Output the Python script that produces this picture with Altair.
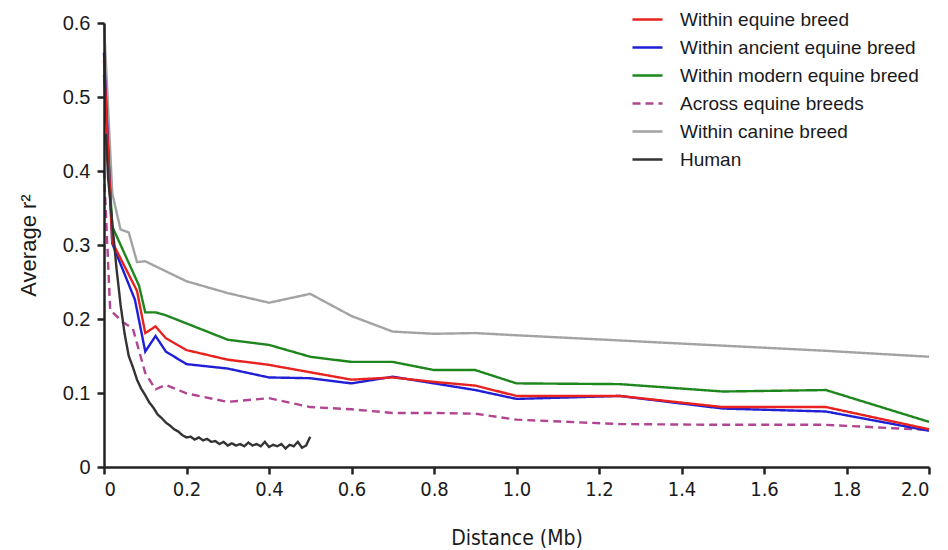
import altair as alt
import pandas as pd

series_order = ["Within equine breed", "Within ancient equine breed", "Within modern equine breed",
                "Across equine breeds", "Within canine breed", "Human"]
series_colors = ["#e8231f", "#1f1fd6", "#1d861d", "#b14592", "#a3a3a3", "#333333"]
series_dash = [[1, 0], [1, 0], [1, 0], [8, 5], [1, 0], [1, 0]]

red_x = [0, 0.02, 0.08, 0.1, 0.125, 0.15, 0.2, 0.3, 0.4, 0.5, 0.6, 0.7, 0.8, 0.9, 1.0, 1.25, 1.5, 1.75, 2.0]
red_y = [0.55, 0.304, 0.238, 0.181, 0.190, 0.174, 0.158, 0.145, 0.138, 0.128, 0.118, 0.121, 0.115, 0.110, 0.096, 0.096, 0.081, 0.081, 0.051]

blue_x = [0, 0.02, 0.075, 0.1, 0.125, 0.15, 0.2, 0.3, 0.4, 0.5, 0.6, 0.7, 0.8, 0.9, 1.0, 1.25, 1.5, 1.75, 2.0]
blue_y = [0.56, 0.302, 0.226, 0.156, 0.177, 0.156, 0.139, 0.133, 0.121, 0.120, 0.113, 0.122, 0.113, 0.104, 0.092, 0.096, 0.079, 0.075, 0.049]

green_x = [0, 0.02, 0.085, 0.1, 0.125, 0.15, 0.2, 0.3, 0.4, 0.5, 0.6, 0.7, 0.8, 0.9, 1.0, 1.25, 1.5, 1.75, 2.0]
green_y = [0.53, 0.325, 0.245, 0.209, 0.209, 0.205, 0.194, 0.172, 0.165, 0.149, 0.142, 0.142, 0.131, 0.131, 0.113, 0.112, 0.102, 0.104, 0.061]

across_x = [0, 0.015, 0.045, 0.07, 0.1, 0.125, 0.15, 0.2, 0.3, 0.4, 0.5, 0.6, 0.7, 0.8, 0.9, 1.0, 1.25, 1.5, 1.75, 2.0]
across_y = [0.40, 0.212, 0.196, 0.187, 0.127, 0.105, 0.111, 0.0995, 0.088, 0.093, 0.081, 0.078, 0.073, 0.073, 0.072, 0.064, 0.058, 0.057, 0.057, 0.050]

canine_x = [0, 0.02, 0.04, 0.06, 0.08, 0.1, 0.2, 0.3, 0.4, 0.5, 0.6, 0.7, 0.8, 0.9, 1.0, 1.25, 1.5, 1.75, 2.0]
canine_y = [0.60, 0.37, 0.321, 0.317, 0.277, 0.278, 0.251, 0.235, 0.222, 0.234, 0.204, 0.183, 0.180, 0.181, 0.178, 0.171, 0.164, 0.157, 0.149]

human_x = [0.005, 0.01, 0.02, 0.03, 0.04, 0.05, 0.06, 0.07, 0.08, 0.09, 0.10, 0.11, 0.12, 0.13, 0.14, 0.15,
           0.16, 0.17, 0.18, 0.19, 0.20, 0.21, 0.22, 0.23, 0.24, 0.25, 0.26, 0.27, 0.28, 0.29, 0.30, 0.31,
           0.32, 0.33, 0.34, 0.35, 0.36, 0.37, 0.38, 0.39, 0.40, 0.41, 0.42, 0.43, 0.44, 0.45, 0.46, 0.47,
           0.48, 0.49, 0.50]
human_y = [0.45, 0.39, 0.33, 0.27, 0.22, 0.18, 0.15, 0.135, 0.118, 0.106, 0.097, 0.087, 0.080, 0.071, 0.066, 0.060,
           0.056, 0.051, 0.048, 0.043, 0.040, 0.041, 0.037, 0.040, 0.036, 0.038, 0.034, 0.035, 0.031, 0.034, 0.029, 0.032,
           0.029, 0.031, 0.028, 0.033, 0.029, 0.031, 0.028, 0.034, 0.027, 0.030, 0.028, 0.031, 0.025, 0.030, 0.028, 0.034,
           0.026, 0.029, 0.041]

draw = [
    ("Within canine breed", canine_x, canine_y),
    ("Across equine breeds", across_x, across_y),
    ("Within modern equine breed", green_x, green_y),
    ("Within ancient equine breed", blue_x, blue_y),
    ("Within equine breed", red_x, red_y),
    ("Human", human_x, human_y),
]
rows = []
for k, (name, xs, ys) in enumerate(draw):
    for i, (xv, yv) in enumerate(zip(xs, ys)):
        rows.append({"series": name, "dist": xv, "r2": yv, "ord": i, "layer": k})
df = pd.DataFrame(rows)

x_ticks = [0, 0.2, 0.4, 0.6, 0.8, 1.0, 1.2, 1.4, 1.6, 1.8, 2.0]
y_ticks = [0, 0.1, 0.2, 0.3, 0.4, 0.5, 0.6]

lab_expr = "datum.value == 0 ? '0' : format(datum.value, '.1f')"
narrow = "'DejaVu Sans Condensed', 'Liberation Sans', Arial, sans-serif"
base = "'Liberation Sans', Arial, sans-serif"
axis_col = "#222222"

legend = alt.Legend(
    orient="none", legendX=527, legendY=-20, title=None,
    symbolType="stroke", symbolSize=900, symbolStrokeWidth=2.5,
    labelFontSize=19, labelFont=base, labelColor="#1a1a1a",
    labelOffset=16, rowPadding=1, padding=0, labelLimit=400,
)

axis_common = dict(grid=False, domain=True, ticks=True, domainColor=axis_col, domainWidth=2.5,
                   tickColor=axis_col, tickWidth=2.5, tickSize=7, labelColor="#1a1a1a",
                   titleColor="#1a1a1a", titleFontWeight="normal", zindex=1)

x_enc = alt.X("dist:Q", scale=alt.Scale(domain=[0, 2.0], nice=False),
              axis=alt.Axis(values=x_ticks, labelExpr=lab_expr, title="Distance (Mb)",
                            labelFont=narrow, labelFontSize=20,
                            titleFont=narrow, titleFontSize=21,
                            labelPadding=5, titlePadding=28, **axis_common))
y_enc = alt.Y("r2:Q", scale=alt.Scale(domain=[0, 0.6], nice=False),
              axis=alt.Axis(values=y_ticks, labelExpr=lab_expr, title="Average r²",
                            labelFont=base, labelFontSize=20,
                            titleFont=base, titleFontSize=22,
                            labelPadding=7, titlePadding=22, **axis_common))

chart = alt.Chart(df).mark_line(strokeWidth=2.4).encode(
    x=x_enc, y=y_enc,
    color=alt.Color("series:N", scale=alt.Scale(domain=series_order, range=series_colors), legend=legend),
    strokeDash=alt.StrokeDash("series:N", scale=alt.Scale(domain=series_order, range=series_dash), legend=legend),
    detail="layer:O",
    order="ord:Q",
).properties(
    width=825, height=444,
    autosize=alt.AutoSizeParams(type="none"),
    padding={"left": 104, "top": 23, "right": 19, "bottom": 83},
    background="white",
).configure_view(strokeWidth=0)

chart.save("out.html", embed_options={"renderer": "svg", "actions": False})
